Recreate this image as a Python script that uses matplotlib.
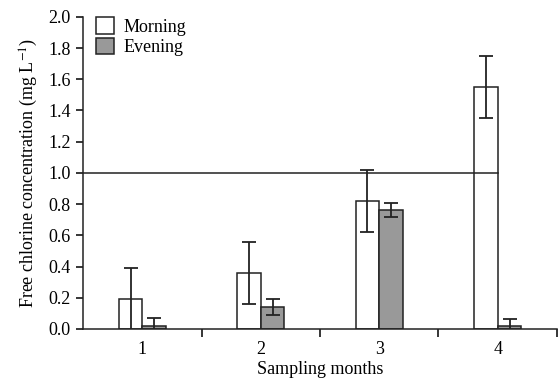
import matplotlib
matplotlib.use("Agg")
import matplotlib.pyplot as plt
import numpy as np

months = ["1", "2", "3", "4"]
morning = [0.19, 0.36, 0.82, 1.55]
morning_err = [0.20, 0.20, 0.20, 0.20]
evening = [0.02, 0.14, 0.76, 0.02]
evening_err = [0.05, 0.05, 0.045, 0.045]

plt.rcParams['font.family'] = ['Liberation Serif', 'DejaVu Serif']
plt.rcParams['mathtext.fontset'] = 'stix'

FS = 13
fig = plt.figure(figsize=(5.58, 3.83), dpi=100)
ax = fig.add_axes([0.149, 0.141, 0.849, 0.815])

x = np.arange(1, len(months) + 1)
w = 0.2
ax.axhline(1.0, xmin=0, xmax=(4.0 - 0.5) / 4.0, color='#222222', lw=1.1, zorder=4)
ax.bar(x - w / 2, morning, w, color='white', edgecolor='#222222', lw=1.1,
       label='Morning', zorder=2)
ax.bar(x + w / 2, evening, w, color='#999999', edgecolor='#222222', lw=1.1,
       label='Evening', zorder=2)
ax.errorbar(x - w / 2, morning, yerr=morning_err, fmt='none', ecolor='#222222',
            elinewidth=1.3, capsize=5, capthick=1.3, zorder=3)
ax.errorbar(x + w / 2, evening, yerr=evening_err, fmt='none', ecolor='#222222',
            elinewidth=1.3, capsize=5, capthick=1.3, zorder=3)

ax.set_xlim(0.5, 4.5)
ax.set_ylim(0, 2.0)
ax.set_yticks(np.arange(0, 2.01, 0.2))
ax.set_yticklabels([f"{v:.1f}" for v in np.arange(0, 2.01, 0.2)])
ax.set_xticks([1.5, 2.5, 3.5, 4.5])
ax.set_xticklabels([])
ax.set_xticks(x, minor=True)
ax.set_xticklabels(months, minor=True)
ax.tick_params(axis='x', which='minor', length=0, pad=9, labelsize=FS)
ax.tick_params(axis='x', which='major', length=6, width=1.1, direction='out')
ax.tick_params(axis='y', length=5, width=1.1, direction='out', labelsize=FS, pad=4)

for s in ['top', 'right']:
    ax.spines[s].set_visible(False)
for s in ['left', 'bottom']:
    ax.spines[s].set_linewidth(1.1)
    ax.spines[s].set_color('#222222')

ax.set_ylabel("Free chlorine concentration (mg L$^{-1}$)", fontsize=FS, labelpad=6)
ax.set_xlabel("Sampling months", fontsize=FS, labelpad=2)

leg = ax.legend(loc='upper left', bbox_to_anchor=(-0.008, 1.05), frameon=False,
                fontsize=FS, handlelength=1.0, handleheight=1.0,
                handletextpad=0.55, labelspacing=0.1, borderaxespad=0.5)

fig.savefig("out.png", dpi=100)
